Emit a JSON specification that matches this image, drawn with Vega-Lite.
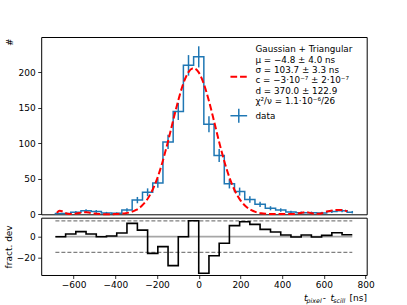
{
  "$schema": "https://vega.github.io/schema/vega-lite/v6.json",
  "background": "white",
  "autosize": {"type": "pad"},
  "padding": {"left": 3.2, "top": 36, "right": 34, "bottom": 3},
  "bounds": "flush",
  "spacing": 2.7,
  "config": {
    "font": "DejaVu Sans",
    "view": {"stroke": "black", "strokeWidth": 1},
    "axis": {
      "domain": false, "grid": false,
      "labelFont": "DejaVu Sans", "labelFontSize": 9, "labelColor": "black",
      "tickColor": "black", "tickSize": 3.5, "tickWidth": 0.8, "labelPadding": 2.5,
      "titleFont": "DejaVu Sans", "titleFontSize": 9, "titleFontWeight": "normal", "titleColor": "black"
    }
  },
  "datasets": {
    "hist": [
      {"t": -687, "n": 1, "lo": 0, "hi": 2, "res": 0},
      {"t": -638, "n": 1, "lo": 0, "hi": 2, "res": 0},
      {"t": -589, "n": 3, "lo": 1.27, "hi": 4.73, "res": 2.5},
      {"t": -540, "n": 5, "lo": 2.76, "hi": 7.24, "res": 4.8},
      {"t": -491, "n": 4, "lo": 2, "hi": 6, "res": 2.5},
      {"t": -442, "n": 2, "lo": 0.59, "hi": 3.41, "res": 0},
      {"t": -393, "n": 1.5, "lo": 0.28, "hi": 2.72, "res": 0.6},
      {"t": -344, "n": 6, "lo": 3.55, "hi": 8.45, "res": 3.5},
      {"t": -294, "n": 20, "lo": 15.53, "hi": 24.47, "res": 12.7},
      {"t": -245, "n": 31, "lo": 25.43, "hi": 36.57, "res": 6.3},
      {"t": -196, "n": 44, "lo": 37.37, "hi": 50.63, "res": -15.9},
      {"t": -147, "n": 102, "lo": 91.9, "hi": 112.1, "res": -9.5},
      {"t": -98, "n": 145, "lo": 132.96, "hi": 157.04, "res": -27.6},
      {"t": -49, "n": 210, "lo": 195.5, "hi": 224.5, "res": 0},
      {"t": 0, "n": 222, "lo": 207.1, "hi": 236.9, "res": 15.2},
      {"t": 49, "n": 127, "lo": 115.7, "hi": 138.3, "res": -34.9},
      {"t": 98, "n": 83, "lo": 73.9, "hi": 92.1, "res": -18.1},
      {"t": 147, "n": 43, "lo": 36.44, "hi": 49.56, "res": -6.3},
      {"t": 196, "n": 32, "lo": 26.34, "hi": 37.66, "res": 10.5},
      {"t": 245, "n": 21, "lo": 16.42, "hi": 25.58, "res": 14.3},
      {"t": 294, "n": 14, "lo": 10.26, "hi": 17.74, "res": 11.7},
      {"t": 344, "n": 8.5, "lo": 5.58, "hi": 11.42, "res": 7},
      {"t": 393, "n": 6, "lo": 3.55, "hi": 8.45, "res": 4.5},
      {"t": 442, "n": 3.3, "lo": 1.48, "hi": 5.12, "res": 1.6},
      {"t": 491, "n": 2.3, "lo": 0.78, "hi": 3.82, "res": -0.3},
      {"t": 540, "n": 2.3, "lo": 0.78, "hi": 3.82, "res": 1.6},
      {"t": 589, "n": 2, "lo": 0.59, "hi": 3.41, "res": -0.3},
      {"t": 638, "n": 4, "lo": 2, "hi": 6, "res": 1.3},
      {"t": 687, "n": 5, "lo": 2.76, "hi": 7.24, "res": 3.8},
      {"t": 736, "n": 3, "lo": 1.27, "hi": 4.73, "res": 1.9}
    ],
    "fit": [
      {"t": -680, "f": 2}, {"t": -667, "f": 5}, {"t": -652, "f": 4}, {"t": -637, "f": 1.5},
      {"t": -620, "f": 0.5}, {"t": -600, "f": 0.5}, {"t": -580, "f": 1.5}, {"t": -560, "f": 2.5},
      {"t": -540, "f": 3}, {"t": -520, "f": 2}, {"t": -500, "f": 1}, {"t": -475, "f": 0.4},
      {"t": -450, "f": 0.2}, {"t": -425, "f": 0.2}, {"t": -400, "f": 0.3}, {"t": -375, "f": 0.8},
      {"t": -350, "f": 1.5}, {"t": -325, "f": 3.1}, {"t": -300, "f": 6.1}, {"t": -275, "f": 11.3},
      {"t": -250, "f": 19.6}, {"t": -225, "f": 32.1}, {"t": -200, "f": 49.6}, {"t": -175, "f": 72.4},
      {"t": -150, "f": 99.6}, {"t": -125, "f": 129.4}, {"t": -100, "f": 158.6}, {"t": -75, "f": 183.4},
      {"t": -50, "f": 200.1}, {"t": -25, "f": 206}, {"t": 0, "f": 200.1}, {"t": 25, "f": 183.4},
      {"t": 50, "f": 158.6}, {"t": 75, "f": 129.4}, {"t": 100, "f": 99.6}, {"t": 125, "f": 72.4},
      {"t": 150, "f": 49.6}, {"t": 175, "f": 32.1}, {"t": 200, "f": 19.6}, {"t": 225, "f": 11.3},
      {"t": 250, "f": 6.1}, {"t": 275, "f": 3.1}, {"t": 300, "f": 1.5}, {"t": 325, "f": 0.8},
      {"t": 350, "f": 0.4}, {"t": 375, "f": 0.3}, {"t": 400, "f": 0.4}, {"t": 425, "f": 0.5},
      {"t": 450, "f": 0.5}, {"t": 475, "f": 1}, {"t": 500, "f": 2.5}, {"t": 515, "f": 3},
      {"t": 535, "f": 2}, {"t": 555, "f": 0.8}, {"t": 575, "f": 0.6}, {"t": 595, "f": 2},
      {"t": 615, "f": 4}, {"t": 640, "f": 5.5}, {"t": 665, "f": 6}, {"t": 690, "f": 6},
      {"t": 712, "f": 4}
    ],
    "limits": [{"lim": 15}, {"lim": -15}],
    "one": [{}]
  },
  "vconcat": [
    {
      "width": 325.5,
      "height": 177.3,
      "encoding": {
        "x": {"type": "quantitative", "scale": {"domain": [-755, 805], "nice": false, "zero": false}, "axis": null}
      },
      "layer": [
        {
          "data": {"name": "hist"},
          "mark": {"type": "line", "interpolate": "step", "color": "#1f77b4", "strokeWidth": 1.5},
          "encoding": {
            "x": {"field": "t", "type": "quantitative"},
            "y": {"field": "n", "type": "quantitative", "scale": {"domain": [0, 250], "nice": false},
              "axis": {"values": [0, 50, 100, 150, 200], "title": "#", "titleAngle": 270, "titleX": -31.3, "titleY": 1, "titleAlign": "right", "titleBaseline": "middle"}}
          }
        },
        {
          "data": {"name": "hist"},
          "mark": {"type": "rule", "color": "#1f77b4", "strokeWidth": 1.5},
          "encoding": {
            "x": {"field": "t", "type": "quantitative"},
            "y": {"field": "lo", "type": "quantitative"},
            "y2": {"field": "hi"}
          }
        },
        {
          "data": {"name": "fit"},
          "mark": {"type": "line", "interpolate": "monotone", "color": "#ff0000", "strokeWidth": 2, "strokeDash": [6.7, 2.9]},
          "encoding": {
            "x": {"field": "t", "type": "quantitative"},
            "y": {"field": "f", "type": "quantitative"}
          }
        },
        {
          "data": {"name": "one"},
          "mark": {"type": "text", "align": "left", "baseline": "middle", "fontSize": 8.8, "lineHeight": 10.3, "color": "black",
            "text": ["Gaussian + Triangular", "μ = −4.8 ± 4.0 ns", "σ = 103.7 ± 3.3 ns", "c = −3·10⁻⁷ ± 2·10⁻⁷", "d = 370.0 ± 122.9", "χ²/ν = 1.1·10⁻⁶/26"]},
          "encoding": {"x": {"datum": 272}, "y": {"datum": 232.5}}
        },
        {
          "data": {"name": "one"},
          "mark": {"type": "text", "align": "left", "baseline": "middle", "fontSize": 8.8, "color": "black", "text": "data"},
          "encoding": {"x": {"datum": 272}, "y": {"datum": 138}}
        },
        {
          "data": {"name": "one"},
          "mark": {"type": "rule", "color": "#ff0000", "strokeWidth": 2, "strokeDash": [6.7, 2.9]},
          "encoding": {"x": {"datum": 152}, "x2": {"datum": 232}, "y": {"datum": 194}}
        },
        {
          "data": {"name": "one"},
          "mark": {"type": "rule", "color": "#1f77b4", "strokeWidth": 1.5},
          "encoding": {"x": {"datum": 152}, "x2": {"datum": 232}, "y": {"datum": 139}}
        },
        {
          "data": {"name": "one"},
          "mark": {"type": "rule", "color": "#1f77b4", "strokeWidth": 1.5},
          "encoding": {"x": {"datum": 192}, "y": {"datum": 129}, "y2": {"datum": 149}}
        }
      ]
    },
    {
      "width": 325.5,
      "height": 57.3,
      "encoding": {
        "x": {"type": "quantitative", "scale": {"domain": [-755, 805], "nice": false, "zero": false},
          "axis": {"values": [-600, -400, -200, 0, 200, 400, 600, 800], "title": null}}
      },
      "layer": [
        {
          "data": {"name": "one"},
          "mark": {"type": "rule", "color": "#a6a6a6", "strokeWidth": 1.8},
          "encoding": {"x": {"datum": -687}, "x2": {"datum": 736},
            "y": {"datum": 0, "type": "quantitative", "scale": {"domain": [-36.5, 18.1], "nice": false, "zero": false},
              "axis": {"values": [-20, 0], "title": "fract. dev", "titleAngle": 270, "titleX": -33, "titleY": 28.65, "titleAlign": "center", "titleBaseline": "middle"}}}
        },
        {
          "data": {"name": "limits"},
          "mark": {"type": "rule", "color": "#808080", "strokeWidth": 1.2, "strokeDash": [4, 2]},
          "encoding": {"x": {"datum": -687}, "x2": {"datum": 736}, "y": {"field": "lim", "type": "quantitative"}}
        },
        {
          "data": {"name": "hist"},
          "mark": {"type": "line", "interpolate": "step-before", "color": "black", "strokeWidth": 1.6},
          "encoding": {
            "x": {"field": "t", "type": "quantitative"},
            "y": {"field": "res", "type": "quantitative"}
          }
        },
        {
          "data": {"name": "one"},
          "mark": {"type": "text", "align": "left", "baseline": "alphabetic", "fontSize": 9, "fontStyle": "italic", "color": "black", "text": "t"},
          "encoding": {"x": {"datum": 504}, "y": {"datum": -61.4}}
        },
        {
          "data": {"name": "one"},
          "mark": {"type": "text", "align": "left", "baseline": "alphabetic", "fontSize": 6.3, "fontStyle": "italic", "color": "black", "text": "pixel"},
          "encoding": {"x": {"datum": 517}, "y": {"datum": -63.3}}
        },
        {
          "data": {"name": "one"},
          "mark": {"type": "text", "align": "left", "baseline": "alphabetic", "fontSize": 9, "color": "black", "text": "-"},
          "encoding": {"x": {"datum": 594}, "y": {"datum": -61.4}}
        },
        {
          "data": {"name": "one"},
          "mark": {"type": "text", "align": "left", "baseline": "alphabetic", "fontSize": 9, "fontStyle": "italic", "color": "black", "text": "t"},
          "encoding": {"x": {"datum": 632}, "y": {"datum": -61.4}}
        },
        {
          "data": {"name": "one"},
          "mark": {"type": "text", "align": "left", "baseline": "alphabetic", "fontSize": 6.3, "fontStyle": "italic", "color": "black", "text": "scill"},
          "encoding": {"x": {"datum": 645}, "y": {"datum": -63.3}}
        },
        {
          "data": {"name": "one"},
          "mark": {"type": "text", "align": "left", "baseline": "alphabetic", "fontSize": 9, "color": "black", "text": "[ns]"},
          "encoding": {"x": {"datum": 723}, "y": {"datum": -61.4}}
        }
      ]
    }
  ]
}
